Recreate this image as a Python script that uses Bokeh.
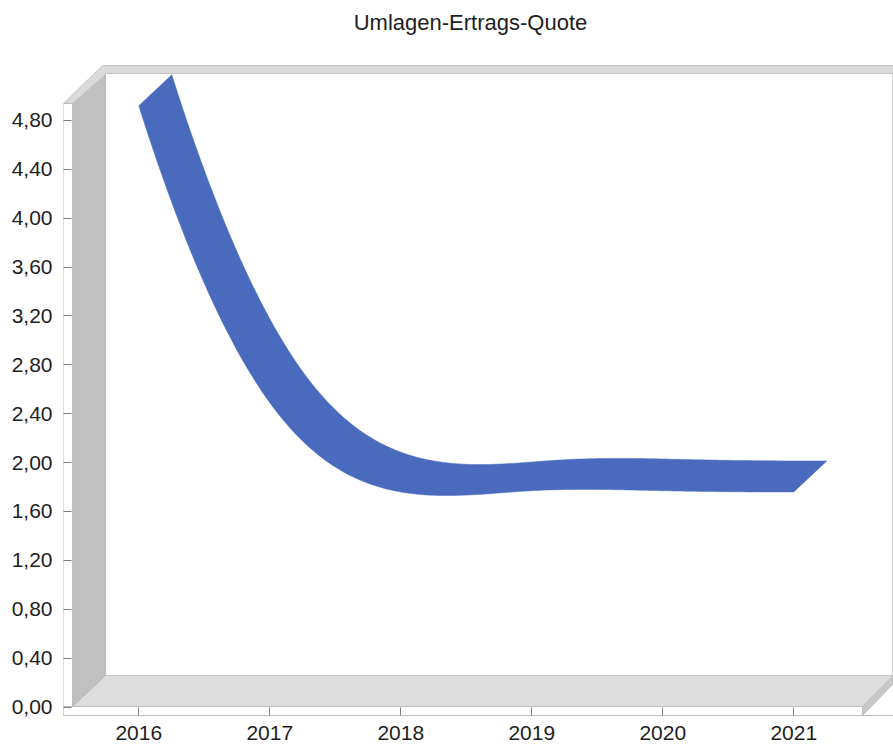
import numpy as np
from bokeh.plotting import figure
from bokeh.models import Range1d, FixedTicker, CustomJSTickFormatter, ColumnDataSource
from bokeh.core.properties import value
from bokeh.embed import file_html
from bokeh.resources import INLINE

# ---------------- data ----------------
title_text = "Umlagen-Ertrags-Quote"
years = [2016, 2017, 2018, 2019, 2020, 2021]
quote = [4.92, 2.49, 1.76, 1.77, 1.77, 1.76]
y_ticks = [0.0, 0.4, 0.8, 1.2, 1.6, 2.0, 2.4, 2.8, 3.2, 3.6, 4.0, 4.4, 4.8]

# ---------------- layout constants (pixels of the picture) ----------------
W, H = 893, 747
FRAME_L, FRAME_R, FRAME_T, FRAME_B = 63, 893, 0, 715
X0PX, XSTEP = 138.3, 131.0       # pixel of first year, pixels per year (front plane)
Y0PX, YSTEP = 706.5, 122.19      # pixel of value 0, pixels per unit (front plane)
DEPTH_DX, DEPTH_DY = 33.0, 31.0  # 3D depth offset in pixels


def X(px):
    return years[0] + (px - X0PX) / XSTEP


def Y(py):
    return (Y0PX - py) / YSTEP


DXU = DEPTH_DX / XSTEP
DYU = DEPTH_DY / YSTEP

p = figure(width=W, height=H, output_backend="svg", toolbar_location=None,
           x_range=Range1d(X(FRAME_L), X(FRAME_R)),
           y_range=Range1d(Y(FRAME_B), Y(FRAME_T)),
           min_border_left=FRAME_L, min_border_right=W - FRAME_R,
           min_border_top=FRAME_T, min_border_bottom=H - FRAME_B)
p.outline_line_color = None
p.xgrid.visible = False
p.ygrid.visible = False
p.background_fill_color = "white"
p.border_fill_color = "white"

# ---------------- 3D frame decoration ----------------
def poly(pts):
    return [X(a) for a, b in pts], [Y(b) for a, b in pts]

decor = [
    # back wall
    ([(105, 73), (892, 73), (892, 675), (105, 675)], "white", "#d4d4d4"),
    # floor
    ([(72, 706), (105, 675), (893, 675), (862, 706)], "#dddddd", "#c6c6c6"),
    # left wall
    ([(72, 104), (105, 73), (105, 675), (72, 706)], "#c0c0c0", "#b8b8b8"),
    # top face
    ([(63, 103), (72, 103), (106, 73), (893, 73), (893, 65), (102, 65)], "#dadada", "#c4c4c4"),
    # floor side face
    ([(862, 706), (893, 675), (893, 683), (862, 715)], "#c8c8c8", "#bcbcbc"),
    # front left strip
    ([(63, 103), (72, 103), (72, 715), (63, 715)], "white", "#bdbdbd"),
    # front bottom strip
    ([(63, 706), (862, 706), (862, 715), (63, 715)], "white", "#bdbdbd"),
]
for pts, fc, lc in decor:
    xs, ys = poly(pts)
    p.patch(xs, ys, fill_color=fc, line_color=lc, line_width=1)

# ---------------- spline ribbon (cubic spline, parabolic run-out ends) ----------------
def cubic_spline(xs, ys, n=40):
    xs = np.asarray(xs, float)
    ys = np.asarray(ys, float)
    m = len(xs)
    h = np.diff(xs)
    A = np.zeros((m, m))
    b = np.zeros(m)
    A[0, 0], A[0, 1] = 1.0, -1.0
    A[-1, -1], A[-1, -2] = 1.0, -1.0
    for i in range(1, m - 1):
        A[i, i - 1] = h[i - 1]
        A[i, i] = 2 * (h[i - 1] + h[i])
        A[i, i + 1] = h[i]
        b[i] = 6 * ((ys[i + 1] - ys[i]) / h[i] - (ys[i] - ys[i - 1]) / h[i - 1])
    M = np.linalg.solve(A, b)
    ox, oy = [], []
    for i in range(m - 1):
        t = np.linspace(0, 1, n, endpoint=(i == m - 2))
        yy = ((1 - t) * ys[i] + t * ys[i + 1]
              + h[i] ** 2 / 6 * (((1 - t) ** 3 - (1 - t)) * M[i] + (t ** 3 - t) * M[i + 1]))
        ox.extend(xs[i] + t * h[i])
        oy.extend(yy)
    return np.array(ox), np.array(oy)

fx, fy = cubic_spline(years, quote)
bx, by = fx + DXU, fy + DYU
rib = ColumnDataSource(dict(x=list(fx) + list(bx[::-1]), y=list(fy) + list(by[::-1])))
p.patch("x", "y", source=rib, fill_color="#4A6BBD", line_color="#4A6BBD", line_width=0.5)

# ---------------- title ----------------
FONT = "Liberation Sans"
p.text(x=[X(470)], y=[Y(22)], text=[title_text], text_font=value(FONT),
       text_font_size="22px", text_color="#1e1e1e",
       text_align="center", text_baseline="middle")

# ---------------- axes ----------------
ax = p.yaxis[0]
ax.ticker = FixedTicker(ticks=y_ticks)
ax.formatter = CustomJSTickFormatter(code="return tick.toFixed(2).replace('.', ',');")
ax.major_tick_in = 8
ax.major_tick_out = 0
ax.minor_tick_line_color = None
ax.axis_line_color = None
ax.major_tick_line_color = "#808080"
ax.major_label_standoff = 11
ax.major_label_text_font = FONT
ax.major_label_text_font_size = "21px"
ax.major_label_text_color = "#1e1e1e"

bx_ = p.xaxis[0]
bx_.ticker = FixedTicker(ticks=years)
bx_.formatter = CustomJSTickFormatter(code="return tick.toFixed(0);")
bx_.major_tick_in = 8
bx_.major_tick_out = 0
bx_.minor_tick_line_color = None
bx_.axis_line_color = "#bdbdbd"
bx_.major_tick_line_color = "#808080"
bx_.major_label_standoff = 10
bx_.major_label_text_font = FONT
bx_.major_label_text_font_size = "21px"
bx_.major_label_text_color = "#1e1e1e"

open("out.html", "w").write(file_html(p, INLINE))
